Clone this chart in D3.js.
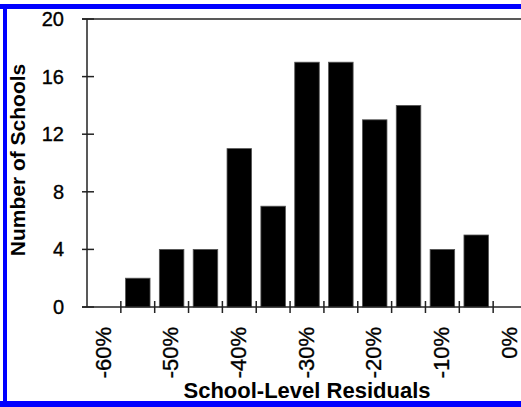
<!DOCTYPE html>
<html>
<head>
<meta charset="utf-8">
<script src="https://cdn.jsdelivr.net/npm/d3@7"></script>
<style>
  html, body { margin: 0; padding: 0; background: #fff; }
  svg { display: block; }
  text { font-family: "Liberation Sans", Arial, sans-serif; fill: #000; }
  .tick-label { stroke: #000; stroke-width: 0.35px; }
</style>
</head>
<body>
<svg id="chart" width="521" height="407"></svg>
<script>
// ---- data ----
const categories = ["-60%","-55%","-50%","-45%","-40%","-35%","-30%","-25%","-20%","-15%","-10%","-5%","0%"];
const counts     = [0, 2, 4, 4, 11, 7, 17, 17, 13, 14, 4, 5, 0];
const tickLabels = ["-60%","-50%","-40%","-30%","-20%","-10%","0%"];
const yTicks     = [0, 4, 8, 12, 16, 20];
const xTitle = "School-Level Residuals";
const yTitle = "Number of Schools";

// ---- layout ----
const W = 521, H = 407;
const plotL = 87, plotR = 527, plotT = 19, plotB = 307;
const svg = d3.select("#chart");

const x = d3.scaleBand().domain(categories).range([plotL, plotR])
  .paddingInner(0.275).paddingOuter(0.1375);
const y = d3.scaleLinear().domain([0, 20]).range([plotB, plotT]);
const step = x.step();

// blue frame
svg.append("rect").attr("x", 0).attr("y", 4).attr("width", W).attr("height", 5).attr("fill", "#0000ff");
svg.append("rect").attr("x", 3).attr("y", 4).attr("width", 4).attr("height", H - 4).attr("fill", "#0000ff");
svg.append("rect").attr("x", 0).attr("y", 401).attr("width", W).attr("height", 6).attr("fill", "#0000ff");

// bars
svg.append("g").selectAll("rect")
  .data(categories.map((c, i) => ({c, v: counts[i]})).filter(d => d.v > 0))
  .join("rect")
  .attr("x", d => x(d.c))
  .attr("y", d => y(d.v))
  .attr("width", x.bandwidth())
  .attr("height", d => y(0) - y(d.v))
  .attr("fill", "#000")
  .attr("stroke", "#555")
  .attr("stroke-width", 0.8);

const axisColor = "#222";
// top border line
svg.append("line").attr("x1", plotL - 5).attr("x2", W).attr("y1", y(20)).attr("y2", y(20))
  .attr("stroke", axisColor).attr("stroke-width", 1.5);
// y axis line
svg.append("line").attr("x1", plotL).attr("x2", plotL).attr("y1", y(20)).attr("y2", y(0))
  .attr("stroke", axisColor).attr("stroke-width", 1.5);
// x axis line
svg.append("line").attr("x1", plotL - 5).attr("x2", W).attr("y1", y(0)).attr("y2", y(0))
  .attr("stroke", axisColor).attr("stroke-width", 1.5);

// y ticks
const yg = svg.append("g");
yg.selectAll("line").data(yTicks).join("line")
  .attr("x1", plotL - 5).attr("x2", plotL + 7)
  .attr("y1", d => y(d)).attr("y2", d => y(d))
  .attr("stroke", axisColor).attr("stroke-width", 1.5);
yg.selectAll("text").data(yTicks).join("text")
  .attr("class", "tick-label")
  .attr("x", 64).attr("y", d => y(d)).attr("dy", "0.35em")
  .attr("text-anchor", "end").attr("font-size", 20)
  .text(d => d);

// x ticks at category boundaries
const bounds = d3.range(1, categories.length).map(i => plotL + i * step);
svg.append("g").selectAll("line").data(bounds).join("line")
  .attr("x1", d => d).attr("x2", d => d)
  .attr("y1", y(0) - 6).attr("y2", y(0) + 6)
  .attr("stroke", axisColor).attr("stroke-width", 1.5);

// x tick labels (every other category)
svg.append("g").selectAll("text").data(tickLabels).join("text")
  .attr("class", "tick-label")
  .attr("transform", d => `translate(${x(d) + x.bandwidth() / 2 - 1},327) rotate(-90)`)
  .attr("dy", "0.35em")
  .attr("text-anchor", "end").attr("font-size", 22)
  .text(d => d);

// axis titles
svg.append("text").attr("x", 307).attr("y", 398).attr("text-anchor", "middle")
  .attr("font-size", 22).attr("font-weight", "bold").text(xTitle);
svg.append("text").attr("transform", "translate(25,160) rotate(-90)")
  .attr("text-anchor", "middle").attr("font-size", 21).attr("font-weight", "bold").text(yTitle);
</script>
</body>
</html>
